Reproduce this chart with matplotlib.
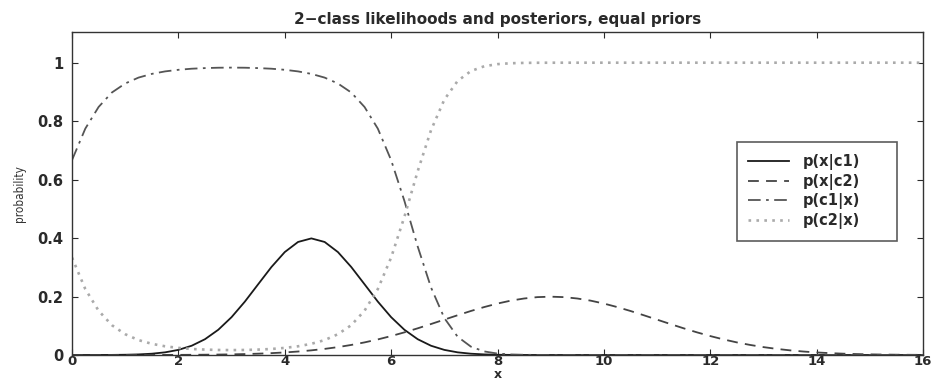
import matplotlib
matplotlib.use("Agg")
import matplotlib.pyplot as plt

x = [0, 0.25, 0.5, 0.75, 1, 1.25, 1.5, 1.75, 2, 2.25, 2.5, 2.75, 3, 3.25, 3.5, 3.75,
     4, 4.25, 4.5, 4.75, 5, 5.25, 5.5, 5.75, 6, 6.25, 6.5, 6.75, 7, 7.25, 7.5, 7.75,
     8, 8.25, 8.5, 8.75, 9, 9.25, 9.5, 9.75, 10, 10.25, 10.5, 10.75, 11, 11.25, 11.5, 11.75,
     12, 12.25, 12.5, 12.75, 13, 13.25, 13.5, 13.75, 14, 14.25, 14.5, 14.75, 15, 15.25, 15.5, 15.75, 16]

p_x_c1 = [0.000016, 0.000048, 0.000134, 0.00035, 0.00087, 0.00203, 0.00443, 0.0091,
          0.0175, 0.0317, 0.054, 0.0863, 0.1295, 0.1826, 0.242, 0.3011,
          0.3521, 0.3867, 0.3989, 0.3867, 0.3521, 0.3011, 0.242, 0.1826,
          0.1295, 0.0863, 0.054, 0.0317, 0.0175, 0.0091, 0.00443, 0.00203,
          0.00087, 0.00035, 0.000134, 0.000048, 0.000016, 0, 0, 0, 0, 0, 0, 0, 0, 0, 0, 0,
          0, 0, 0, 0, 0, 0, 0, 0, 0, 0, 0, 0, 0, 0, 0, 0, 0]

p_x_c2 = [0.000008, 0.000014, 0.000024, 0.00004, 0.000067, 0.00011, 0.000176, 0.00028,
          0.00044, 0.00067, 0.00102, 0.00151, 0.00222, 0.0032, 0.00454, 0.00637,
          0.00876, 0.0119, 0.0159, 0.0209, 0.027, 0.0344, 0.0431, 0.0533,
          0.0648, 0.0775, 0.0913, 0.106, 0.121, 0.136, 0.1506, 0.164,
          0.176, 0.186, 0.1933, 0.198, 0.1995, 0.198, 0.1933, 0.186,
          0.176, 0.164, 0.1506, 0.136, 0.121, 0.106, 0.0913, 0.0775,
          0.0648, 0.0533, 0.0431, 0.0344, 0.027, 0.0209, 0.0159, 0.0119,
          0.00876, 0.00637, 0.00454, 0.0032, 0.00222, 0.00151, 0.00102, 0.00067, 0.00044]

p_c1_x = [0.6667, 0.7744, 0.8485, 0.898, 0.9288, 0.949, 0.9617, 0.9702,
          0.9757, 0.9794, 0.9815, 0.9828, 0.9832, 0.9828, 0.9815, 0.9794,
          0.9757, 0.9702, 0.9617, 0.949, 0.9288, 0.898, 0.8485, 0.7744,
          0.6667, 0.527, 0.371, 0.231, 0.1265, 0.0625, 0.0286, 0.0122,
          0.00494, 0.0019, 0.0007, 0.00024, 0.00008, 0.00003, 0.00001, 0, 0, 0, 0, 0, 0, 0, 0, 0,
          0, 0, 0, 0, 0, 0, 0, 0, 0, 0, 0, 0, 0, 0, 0, 0, 0]

p_c2_x = [0.3333, 0.2256, 0.1515, 0.102, 0.0712, 0.051, 0.0383, 0.0298,
          0.0243, 0.0206, 0.0185, 0.0172, 0.0168, 0.0172, 0.0185, 0.0206,
          0.0243, 0.0298, 0.0383, 0.051, 0.0712, 0.102, 0.1515, 0.2256,
          0.3333, 0.473, 0.629, 0.769, 0.8735, 0.9375, 0.9714, 0.9878,
          0.99506, 0.9981, 0.9993, 0.99976, 0.99992, 0.99997, 0.99999, 1, 1, 1, 1, 1, 1, 1, 1, 1,
          1, 1, 1, 1, 1, 1, 1, 1, 1, 1, 1, 1, 1, 1, 1, 1, 1]

labels = ["p(x|c1)", "p(x|c2)", "p(c1|x)", "p(c2|x)"]
xticks = [0, 2, 4, 6, 8, 10, 12, 14, 16]
yticks = [0, 0.2, 0.4, 0.6, 0.8, 1]
yticklabels = ["0", "0.2", "0.4", "0.6", "0.8", "1"]

plt.rcParams['font.family'] = ['DejaVu Sans']
txt_color = '#2a2a2a'

fig = plt.figure(figsize=(9.31, 3.83), dpi=100)
ax = fig.add_axes([72/931, 28/383, 851/931, 323/383])

ax.plot(x, p_x_c1, color='#1a1a1a', lw=1.3, linestyle='-', label=labels[0])
ax.plot(x, p_x_c2, color='#444444', lw=1.3, linestyle=(0, (6, 4)), label=labels[1])
ax.plot(x, p_c1_x, color='#555555', lw=1.3, linestyle=(0, (7, 3, 1.5, 3)), label=labels[2])
ax.plot(x, p_c2_x, color='#aaaaaa', lw=1.9, linestyle=(0, (1, 2)), label=labels[3])

ax.set_xlim(0, 16)
ax.set_ylim(0, 1.105)
ax.set_xticks(xticks)
ax.set_xticklabels([str(t) for t in xticks])
ax.set_yticks(yticks)
ax.set_yticklabels(yticklabels)
ax.tick_params(direction='in', top=True, right=True, length=4, labelsize=10.5,
               colors=txt_color)
ax.tick_params(axis='x', pad=0, labelsize=9.5)
ax.tick_params(axis='y', pad=6)
for lab in ax.get_xticklabels() + ax.get_yticklabels():
    lab.set_fontweight('bold')
for s in ax.spines.values():
    s.set_linewidth(1.0)
    s.set_color('#333333')

ax.set_title("2\u2212class likelihoods and posteriors, equal priors", fontsize=11,
             fontweight='bold', color=txt_color, pad=6)
ax.set_xlabel("x", fontsize=9, fontweight='bold', labelpad=0, color=txt_color)
ax.set_ylabel("probability", fontsize=8.5, fontstretch='condensed', labelpad=8,
              color='#333333')

leg = ax.legend(loc='upper left', bbox_to_anchor=(0.781, 0.351, 0.188, 0.307),
                mode='expand', prop={'size': 10.5, 'weight': 'bold'},
                frameon=True, fancybox=False, edgecolor='#333333', handlelength=2.8,
                borderpad=0.8, labelspacing=0.25, handletextpad=0.9, borderaxespad=0)
leg.get_frame().set_linewidth(1.2)
for t in leg.get_texts():
    t.set_color(txt_color)

fig.savefig("out.png", dpi=100)
